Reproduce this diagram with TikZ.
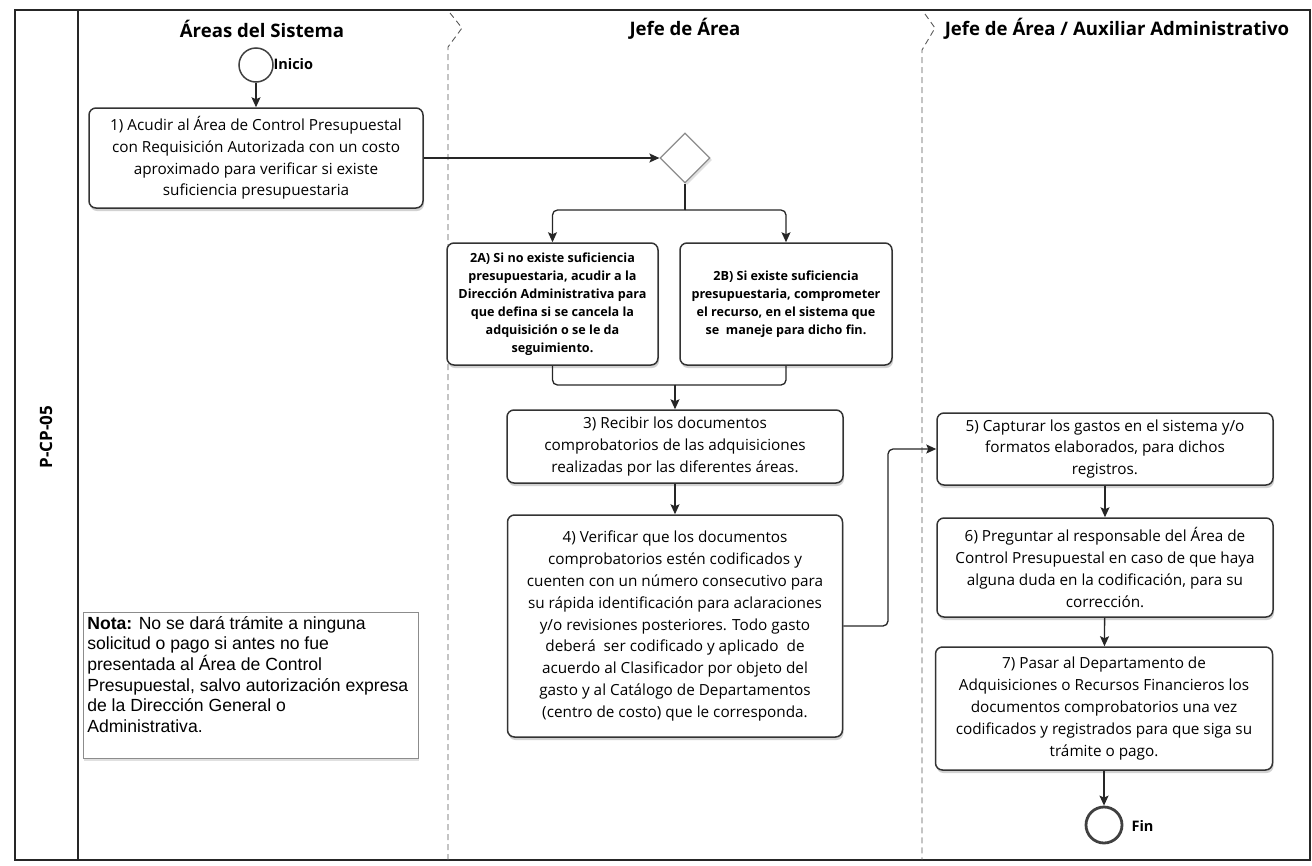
\documentclass[tikz,border=0pt]{standalone}
\usepackage{fontspec}
\setmainfont{Open Sans}
\newfontfamily\notefont{Liberation Sans}
\usetikzlibrary{shapes.geometric,shadows,arrows.meta}

\begin{document}
\begin{tikzpicture}[x=1pt,y=-1pt,
  boxshadow/.style={drop shadow={shadow xshift=1pt, shadow yshift=-3pt, opacity=0.25, fill=black!70}},
  stepbox/.style={draw=black!80, line width=1.5pt, rounded corners=7pt, fill=white,
    align=center, inner sep=2pt, boxshadow,
    font=\fontsize{15.3}{21.8}\selectfont},
  boldbox/.style={stepbox, font=\bfseries\fontsize{12.6}{18}\selectfont},
  lanetitle/.style={font=\bfseries\fontsize{18.6}{22}\selectfont},
  lanesep/.style={line width=0.9pt, black!65, dash pattern=on 6pt off 4pt},
  flow/.style={line width=1.3pt, black!85, -{Stealth[length=10pt, width=9pt, inset=2pt]}},
  link/.style={line width=1.3pt, black!85},
  event/.style={circle, draw=black!75, fill=white, minimum size=34pt, inner sep=0pt},
  evlabel/.style={anchor=west, font=\bfseries\fontsize{14.5}{17}\selectfont},
]
\useasboundingbox (0,0) rectangle (1312,865);

% pool frame and lane separators
\draw[line width=1.3pt, black!85] (15,10) rectangle (1310,860);
\draw[line width=1.3pt, black!85] (78,10) -- (78,860);
\draw[lanesep] (450,13) -- (462,28) -- (448,47) -- (448,860);
\draw[lanesep] (925,14) -- (935,28) -- (922,50) -- (922,860);

% pool and lane titles
\node[rotate=90, font=\bfseries\fontsize{17}{19}\selectfont] (pool) at (46,437) {P-CP-05};
\node[lanetitle] (lane1) at (262,29) {Áreas del Sistema};
\node[lanetitle] (lane2) at (685,29) {Jefe de Área};
\node[lanetitle] (lane3) at (1117,29) {Jefe de Área / Auxiliar Administrativo};

% events
\node[event, line width=1.5pt] (start) at (256,65) {};
\node[evlabel] (startlbl) at (270,64) {Inicio};
\node[event, line width=2.8pt, minimum size=36pt] (fin) at (1104,825) {};
\node[evlabel] (finlbl) at (1128,826) {Fin};

% activities
\node[stepbox, minimum width=334pt, minimum height=100pt] (b1) at (256,158)
  {1) Acudir al Área de Control Presupuestal\\con Requisición Autorizada con un costo\\aproximado para verificar si existe\\suficiencia presupuestaria};

\node[diamond, draw=black!45, line width=1.2pt, fill=white, minimum width=50pt, minimum height=50pt, inner sep=0pt,
  drop shadow={shadow xshift=2pt, shadow yshift=-2pt, opacity=0.2, fill=black!60}] (dec) at (685,158) {};

\node[boldbox, minimum width=211pt, minimum height=122pt] (b2a) at (552.5,304)
  {2A) Si no existe suficiencia\\presupuestaria, acudir a la\\Dirección Administrativa para\\que defina si se cancela la\\adquisición o se le da\\seguimiento.};
\node[boldbox, minimum width=212pt, minimum height=122pt] (b2b) at (786,304)
  {2B) Si existe suficiencia\\presupuestaria, comprometer\\el recurso, en el sistema que\\se \ maneje para dicho fin.};

\node[stepbox, minimum width=336pt, minimum height=73pt] (b3) at (675,446.5)
  {3) Recibir los documentos\\comprobatorios de las adquisiciones\\realizadas por las diferentes áreas.};
\node[stepbox, minimum width=335pt, minimum height=222pt] (b4) at (675,626)
  {4) Verificar que los documentos\\comprobatorios estén codificados y\\cuenten con un número consecutivo para\\su rápida identificación para aclaraciones\\y/o revisiones posteriores. Todo gasto\\deberá \ ser codificado y aplicado \ de\\acuerdo al Clasificador por objeto del\\gasto y al Catálogo de Departamentos\\(centro de costo) que le corresponda.};

\node[stepbox, minimum width=336pt, minimum height=72pt] (b5) at (1105,449)
  {5) Capturar los gastos en el sistema y/o\\formatos elaborados, para dichos\\registros.};
\node[stepbox, minimum width=336pt, minimum height=99pt] (b6) at (1105,567.5)
  {6) Preguntar al responsable del Área de\\Control Presupuestal en caso de que haya\\alguna duda en la codificación, para su\\corrección.};
\node[stepbox, minimum width=337pt, minimum height=123pt] (b7) at (1104,708.5)
  {7) Pasar al Departamento de\\Adquisiciones o Recursos Financieros los\\documentos comprobatorios una vez\\codificados y registrados para que siga su\\trámite o pago.};

% annotation
\node[draw=black!45, line width=0.6pt, fill=white, anchor=north west, inner sep=4pt,
  drop shadow={shadow xshift=1pt, shadow yshift=-3pt, opacity=0.2, fill=black!60},
  font=\notefont\fontsize{17.6}{20.6}\selectfont] (nota) at (83,612)
  {\begin{minipage}[t][138pt][t]{327pt}\raggedright
   \textbf{Nota:} No se dará trámite a ninguna\\solicitud o pago si antes no fue\\presentada al Área de Control\\Presupuestal, salvo autorización expresa\\de la Dirección General o\\Administrativa.\end{minipage}};

% sequence flows
\coordinate (split) at (685,210);
\coordinate (join) at (675,385);
\coordinate (bend) at (888,626);

\draw[flow] (start) -- (b1);
\draw[flow] (b1.east) -- (dec.west);
\draw[link] (dec.south) -- (split);
\draw[flow, rounded corners=5pt] (split) -| (b2a.north);
\draw[flow, rounded corners=5pt] (split) -| (b2b.north);
\draw[link, rounded corners=5pt] (b2a.south) |- (join);
\draw[link, rounded corners=5pt] (b2b.south) |- (join);
\draw[flow] (join) -- (b3.north);
\draw[flow] (b3) -- (b4);
\draw[flow, rounded corners=5pt] (b4.east) -- (bend) |- (b5.west);
\draw[flow] (b5) -- (b6);
\draw[flow] (b6) -- (b7);
\draw[flow] (b7) -- (fin);
\end{tikzpicture}
\end{document}
